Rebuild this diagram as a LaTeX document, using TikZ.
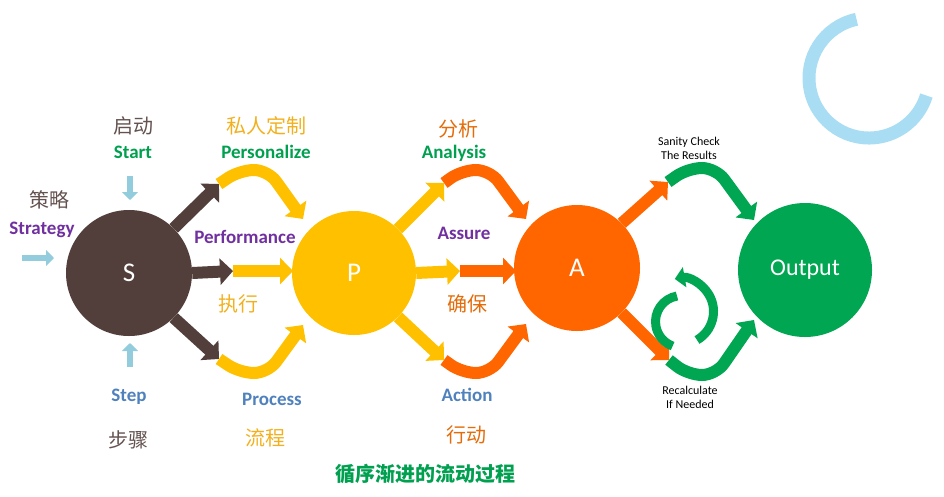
\documentclass[tikz,border=0pt]{standalone}
\usepackage{fontspec}
\setmainfont{Carlito}
\newfontfamily\cjk{Noto Sans CJK SC}
\usetikzlibrary{arrows.meta}
\definecolor{brn}{HTML}{523F3B}
\definecolor{yel}{HTML}{FFC000}
\definecolor{org}{HTML}{FF6600}
\definecolor{grn}{HTML}{00A651}
\definecolor{lblue}{HTML}{93CDDD}
\definecolor{ring}{HTML}{A9DDF3}
\definecolor{purp}{HTML}{7030A0}
\definecolor{blu}{HTML}{4F81BD}
\definecolor{ytxt}{HTML}{F2B01E}
\definecolor{otxt}{HTML}{E46C0A}
\definecolor{gtxt}{HTML}{00A050}
\begin{document}
\begin{tikzpicture}[x=1pt,y=-1pt,
  band/.style={line width=12pt,rounded corners=14pt,-{Triangle[length=13pt,width=26pt]}},
  small/.style={line width=6pt,-{Triangle[length=8pt,width=16pt]},lblue},
  lab/.style={font=\bfseries\fontsize{19}{19}\selectfont},
  zh/.style={font=\cjk\fontsize{20}{20}\selectfont},
  circ/.style={circle,draw=none,text=white,font=\fontsize{27}{27}\selectfont}]
\useasboundingbox (0,0) rectangle (944,496);
% ring
\draw[ring,line width=13pt] (869,78) ++(-102:60) arc[start angle=-102,end angle=-343,radius=60];
% circles
\node[circ,fill=brn,minimum size=126pt] (S) at (129,273) {S};
\node[circ,fill=yel,minimum size=124pt] (P) at (354,273) {P};
\node[circ,fill=org,minimum size=126pt] (A) at (577,268) {A};
\node[circ,fill=grn,minimum size=134pt,font=\fontsize{24}{24}\selectfont] (O) at (805,270) {Output};
% S arrows
\coordinate (s1) at (219,184); \coordinate (s2) at (233,271); \coordinate (s3) at (219,359);
\draw[band,brn] (S.45) -- (s1);
\draw[band,brn] (S.east) -- (s2);
\draw[band,brn] (S.-45) -- (s3);
\draw[band,yel] (s1) -- (240,170) -- (268,170) -- (303,219);
\draw[band,yel] (s2) -- (293,271);
\draw[band,yel] (s3) -- (240,373) -- (268,373) -- (303,325);
% P arrows
\coordinate (p1) at (444,183); \coordinate (p2) at (460,271); \coordinate (p3) at (444,360);
\draw[band,yel] (P.45) -- (p1);
\draw[band,yel] (P.east) -- (p2);
\draw[band,yel] (P.-45) -- (p3);
\draw[band,org] (p1) -- (462,170) -- (490,170) -- (526,219);
\draw[band,org] (p2) -- (516,271);
\draw[band,org] (p3) -- (462,373) -- (490,373) -- (526,324);
% A arrows
\coordinate (a1) at (668,182); \coordinate (a3) at (669,360);
\draw[band,org] (A.45) -- (a1);
\draw[band,org] (A.-45) -- (a3);
\draw[band,grn] (a1) -- (688,168) -- (716,168) -- (754,220);
\draw[band,grn] (a3) -- (688,375) -- (716,375) -- (754,320);
% recycle arrow
\draw[grn,line width=9pt] (677,296) arc[start angle=-100,end angle=-250,radius=26];
\draw[grn,line width=9pt,-{Triangle[length=10pt,width=20pt]}] (697,340) arc[start angle=60,end angle=-100,radius=33];
% small arrows
\coordinate (d1) at (130,176); \coordinate (d2) at (130,200);
\draw[small] (d1) -- (d2);
\coordinate (u1) at (130,367); \coordinate (u2) at (130,343);
\draw[small] (u1) -- (u2);
\coordinate (r1) at (22,258); \coordinate (r2) at (54,258);
\draw[small] (r1) -- (r2);
% texts
\node[zh,text=brn!90] (t1) at (133,126) {启动};
\node[lab,text=gtxt] (t2) at (133,152) {Start};
\node[zh,text=ytxt] (t3) at (266,126) {私人定制};
\node[lab,text=gtxt] (t4) at (266,152) {Personalize};
\node[zh,text=otxt] (t5) at (458,129) {分析};
\node[lab,text=gtxt] (t6) at (454,153) {Analysis};
\node[zh,text=brn!90] (t7) at (49,200) {策略};
\node[lab,text=purp] (t8) at (42,230) {Strategy};
\node[lab,text=purp] (t9) at (245,237) {Performance};
\node[lab,text=purp] (t10) at (464,233) {Assure};
\node[zh,text=ytxt] (t11) at (238,304) {执行};
\node[zh,text=otxt] (t12) at (467,304) {确保};
\node[lab,text=blu] (t13) at (129,397) {Step};
\node[zh,text=brn!90] (t14) at (128,440) {步骤};
\node[lab,text=blu] (t15) at (272,399) {Process};
\node[zh,text=ytxt] (t16) at (265,438) {流程};
\node[lab,text=blu] (t17) at (467,395) {Action};
\node[zh,text=otxt] (t18) at (466,435) {行动};
\node[font=\fontsize{12}{14}\selectfont,align=center] (t19) at (689,148) {Sanity Check\\The Results};
\node[font=\fontsize{12}{14}\selectfont,align=center] (t20) at (690,397) {Recalculate\\If Needed};
\node[font=\cjk\bfseries\fontsize{20}{20}\selectfont,text=gtxt] (t21) at (425,474) {循序渐进的流动过程};
\end{tikzpicture}
\end{document}
